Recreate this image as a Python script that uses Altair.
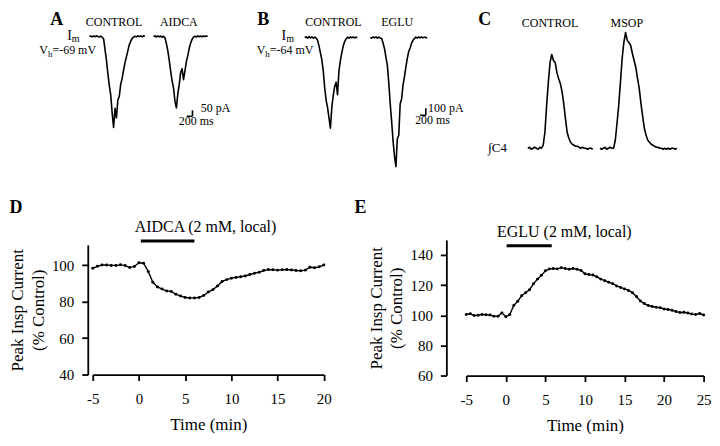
import altair as alt
import numpy as np
import pandas as pd

FONT = "Liberation Serif, Times New Roman, serif"

# ---------------- data ----------------
# Panels A-B: inspiratory currents (pA), sampled every 50 ms
DT_AB_MS = 50
A_CONTROL = [0, 4, -3, 5, -2, 6, 0, -4, 3, -5, -20, -110, -200, -310, -410, -490, -640, -760, -600, -680,
             -530, -500, -400, -350, -280, -220, -170, -120, -70, -40, -15, -5, 2, -3, 5, 0, 4, -2, 6, 3]
A_AIDCA = [0, 5, -4, 6, -3, 4, -6, 2, -10, -60, -120, -200, -290, -370, -430, -540, -596, -480, -400, -300,
           -270, -360, -290, -210, -160, -100, -55, -25, -5, 3, -4, 5, -2, 4, -3, 5, 0, 4, 2]
B_CONTROL = [0, 10, -8, 12, -5, 8, -10, 6, -5, -40, -120, -220, -320, -480, -720, -900, -1000, -1150, -1300,
             -1000, -830, -700, -640, -820, -480, -330, -220, -120, -60, -20, 5, -8, 10, -5, 8, -6, 5, 0]
B_EGLU = [0, -8, 10, -6, 8, -10, 5, -6, -15, -80, -160, -280, -400, -650, -950, -1200, -1480, -1700, -1850,
          -1450, -1400, -950, -880, -680, -560, -420, -300, -200, -150, -80, -40, -15, 5, -8, 10, -6, 8, -5,
          6, -4, 2]
# Panel C: integrated C4 activity (arbitrary units), sampled every 60 ms
DT_C_MS = 60
C_CONTROL = [0, 1, -1, 0, 1, 0, -1, 1, 0, 3, 16, 43, 66, 86, 94, 88, 86, 76, 70, 65, 57, 45, 30, 16, 10, 6, 4,
             3, 2, 2, 1, 0, 1, 0, 0, -1, 0, 0, -1]
C_MSOP = [0, -1, 0, 1, -1, 0, 1, 0, 0, 8, 25, 43, 66, 90, 106, 116, 108, 106, 103, 95, 88, 81, 70, 60, 45, 32,
          20, 13, 8, 6, 4, 3, 2, 1, 1, 0, 0, -1, 0, -1, 0, -1, 0, 0, -1, 0]

# Panels D, E: peak inspiratory current (% control) every 0.5 min
D_TIME = np.arange(-5, 20.001, 0.5)
D_PEAK = [98.2, 99.3, 100, 100, 99.8, 99.8, 100.1, 99.7, 98.6, 99.2, 101.2, 101.0, 96.5, 90.5, 88, 86.8, 85.8,
          85.5, 84, 83, 82.2, 82, 82, 82.2, 83.3, 85.2, 86.5, 88.5, 91, 92, 92.8, 93.2, 93.6, 94, 94.8, 95.5,
          96, 97, 97.5, 97.4, 97.2, 97.4, 97.5, 97.3, 97, 96.8, 97.2, 98.8, 98.5, 99, 100]
E_TIME = np.arange(-5, 25.001, 0.5)
E_PEAK = [100.5, 101, 99.8, 100, 100.6, 100.3, 100.2, 99.3, 99.4, 101.6, 99, 100.5, 106.5, 109.3, 113, 115,
          117, 121, 124, 126.5, 129.5, 130.8, 131, 130.8, 131.6, 131, 130.6, 131, 130.5, 129.8, 127.5, 127,
          126.7, 125.5, 124, 123, 122, 121, 119.5, 118.5, 117.5, 116.5, 115, 112.5, 109.5, 107.8, 106.5,
          105.8, 105.3, 105, 104.2, 103.8, 103.3, 102.5, 101.8, 102, 101.5, 100.8, 100.5, 101.2, 100.2]
D_DRUG = ("AIDCA (2 mM, local)", 0.2, 6.0)
E_DRUG = ("EGLU (2 mM, local)", 0.1, 5.8)

# ---------------- layout (pixels, relative to the D / E plot origins) ----------------
MS_PER_PX = 35.0
START_PX = {"A_CONTROL": -3.4, "A_AIDCA": 61.0, "B_CONTROL": 212.6, "B_EGLU": 278.3,   # D frame
            "C_CONTROL": 61.7, "C_MSOP": 134.0}                                        # E frame
# (baseline pixel row, pixels per unit) for each trace panel
PANEL_Y = {"A": (-204.0, 0.12), "B": (-203.0, 0.07), "C": (-92.0, 1.0)}

ONE = pd.DataFrame({"k": [0]})
XS_TRACE = alt.Scale(domain=[0, 1000 * MS_PER_PX], range=[0, 1000], nice=False, zero=False)


def ys_trace(panel):
    base, k = PANEL_Y[panel]
    return alt.Scale(domain=[-1000, 0], range=[base + 1000 * k, base], nice=False, zero=False)


def trace_df(values, dt, name):
    start = START_PX[name] * MS_PER_PX
    return pd.DataFrame({"x": start + np.arange(len(values)) * dt, "v": values, "trace": name})


def trace_layer(df, panel):
    return alt.Chart(df).mark_line(color="black", strokeWidth=1.6, strokeJoin="round").encode(
        x=alt.X("x:Q", scale=XS_TRACE, axis=None),
        y=alt.Y("v:Q", scale=ys_trace(panel), axis=None),
        detail="trace:N",
    )


def scalebar(panel, corner_px, corner_val, dx_ms, dy):
    cx = corner_px * MS_PER_PX
    df = pd.DataFrame({"x": [cx - dx_ms, cx], "x2": [cx, cx],
                       "v": [corner_val, corner_val], "v2": [corner_val, corner_val + dy]})
    return alt.Chart(df).mark_rule(color="black", strokeWidth=1.6).encode(
        x=alt.X("x:Q", scale=XS_TRACE, axis=None), x2="x2:Q",
        y=alt.Y("v:Q", scale=ys_trace(panel), axis=None), y2="v2:Q",
    )


def txt(s, x, y, size, weight="normal", align="left", baseline="alphabetic"):
    return alt.Chart(ONE).mark_text(text=s, font=FONT, fontSize=size, fontWeight=weight, align=align,
                                    baseline=baseline, color="black").encode(x=alt.value(x), y=alt.value(y))


dfA = pd.concat([trace_df(A_CONTROL, DT_AB_MS, "A_CONTROL"), trace_df(A_AIDCA, DT_AB_MS, "A_AIDCA")])
dfB = pd.concat([trace_df(B_CONTROL, DT_AB_MS, "B_CONTROL"), trace_df(B_EGLU, DT_AB_MS, "B_EGLU")])
dfC = pd.concat([trace_df(C_CONTROL, DT_C_MS, "C_CONTROL"), trace_df(C_MSOP, DT_C_MS, "C_MSOP")])

AB_LAYERS = [
    trace_layer(dfA, "A"), trace_layer(dfB, "B"),
    scalebar("A", 100.0, -667, 200, 50), scalebar("B", 334.0, -1114, 200, 100),
    txt("A", -42.7, -216, 18, "bold"), txt("B", 165, -216, 18, "bold"),
    txt("CONTROL", 21.3, -215, 12, align="center"), txt("AIDCA", 86.3, -215, 12, align="center"),
    txt("CONTROL", 241.3, -215, 12, align="center"), txt("EGLU", 305.3, -215, 12, align="center"),
    txt("I", -25.7, -201, 14), txt("m", -21, -198.5, 10),
    txt("=-69 mV", 3.3, -186.5, 12, align="right"), txt("h", -40.5, -183.5, 9, align="right"),
    txt("V", -45, -186.5, 12, align="right"),
    txt("I", 189.3, -201, 14), txt("m", 194, -198.5, 10),
    txt("=-64 mV", 221.3, -186.5, 12, align="right"), txt("h", 177.5, -183.5, 9, align="right"),
    txt("V", 173, -186.5, 12, align="right"),
    txt("50 pA", 108.3, -128.5, 12), txt("200 ms", 86.3, -115, 12),
    txt("100 pA", 336.3, -128, 12), txt("200 ms", 323.3, -116, 12),
]
C_LAYERS = [
    trace_layer(dfC, "C"),
    txt("C", 12, -216, 18, "bold"),
    txt("CONTROL", 84, -213.5, 12, align="center"), txt("MSOP", 161, -213.5, 12, align="center"),
    txt("\u222bC4", 22, -88, 13),
]


def time_panel(times, vals, xmax, xticks, ydomain, yticks, yrange, w, h, yoffset, drug, drug_cx,
               drug_label_y, drug_bar_y, letter, letter_x, extra):
    xscale = alt.Scale(domain=[-5, xmax], nice=False, zero=False)
    X = alt.X("t:Q", scale=xscale,
              axis=alt.Axis(values=xticks, title="Time (min)", labelExpr="'' + datum.value",
                            labelFlush=False))
    Xplain = alt.X("t:Q", scale=xscale, axis=None)
    if yrange is not None:
        yscale = alt.Scale(domain=ydomain, range=yrange, nice=False, zero=False)
    else:
        yscale = alt.Scale(domain=ydomain, nice=False, zero=False)
    Y = alt.Y("v:Q", scale=yscale,
              axis=alt.Axis(values=yticks, title=["Peak Insp Current", "(% Control)"], offset=yoffset,
                            labelFlush=False))
    df = pd.DataFrame({"t": times, "v": vals})
    line = alt.Chart(df).mark_line(
        color="black", strokeWidth=1.4,
        point=alt.OverlayMarkDef(filled=True, size=9, color="black"),
    ).encode(x=X, y=Y)
    bar = alt.Chart(pd.DataFrame({"t": [drug[1]], "t2": [drug[2]]})).mark_rule(
        color="black", strokeWidth=3).encode(x=Xplain, x2="t2:Q", y=alt.value(drug_bar_y))
    lab = alt.Chart(pd.DataFrame({"t": [drug_cx], "s": [drug[0]]})).mark_text(
        font=FONT, fontSize=16, align="center", baseline="middle", color="black"
    ).encode(x=Xplain, y=alt.value(drug_label_y), text="s:N")
    let = txt(letter, letter_x, -27, 18, "bold")
    return (alt.layer(line, bar, lab, let, *extra)
            .resolve_scale(x="independent", y="independent")
            .properties(width=w, height=h))


D = time_panel(D_TIME, D_PEAK, 20, [-5, 0, 5, 10, 15, 20], [40, 111], [40, 60, 80, 100], [135, 5],
               231.7, 135, 5, D_DRUG, 7.2, -13, 1, "D", -83.4, AB_LAYERS)
E = time_panel(E_TIME, E_PEAK, 25, [-5, 0, 5, 10, 15, 20, 25], [60, 150], [60, 80, 100, 120, 140], None,
               238, 136, 20, E_DRUG, 7.4, -8.3, 5.7, "E", -112, C_LAYERS)

chart = (
    alt.hconcat(D, E, spacing=142.6, bounds="flush")
    .properties(padding={"top": 2, "left": 0, "right": 0, "bottom": 0}, background="white")
    .configure_view(stroke=None)
    .configure_axis(labelFont=FONT, titleFont=FONT, labelFontSize=15, titleFontSize=17,
                    titleFontWeight="normal", labelColor="black", titleColor="black",
                    domainColor="black", tickColor="black", domainWidth=1.8, tickWidth=1.8,
                    tickSize=6, grid=False)
    .configure_axisX(labelPadding=11, titlePadding=10)
    .configure_axisY(labelPadding=8, titlePadding=4, titleLineHeight=21)
)

chart.save("out.html", embed_options={"renderer": "svg", "actions": False})
